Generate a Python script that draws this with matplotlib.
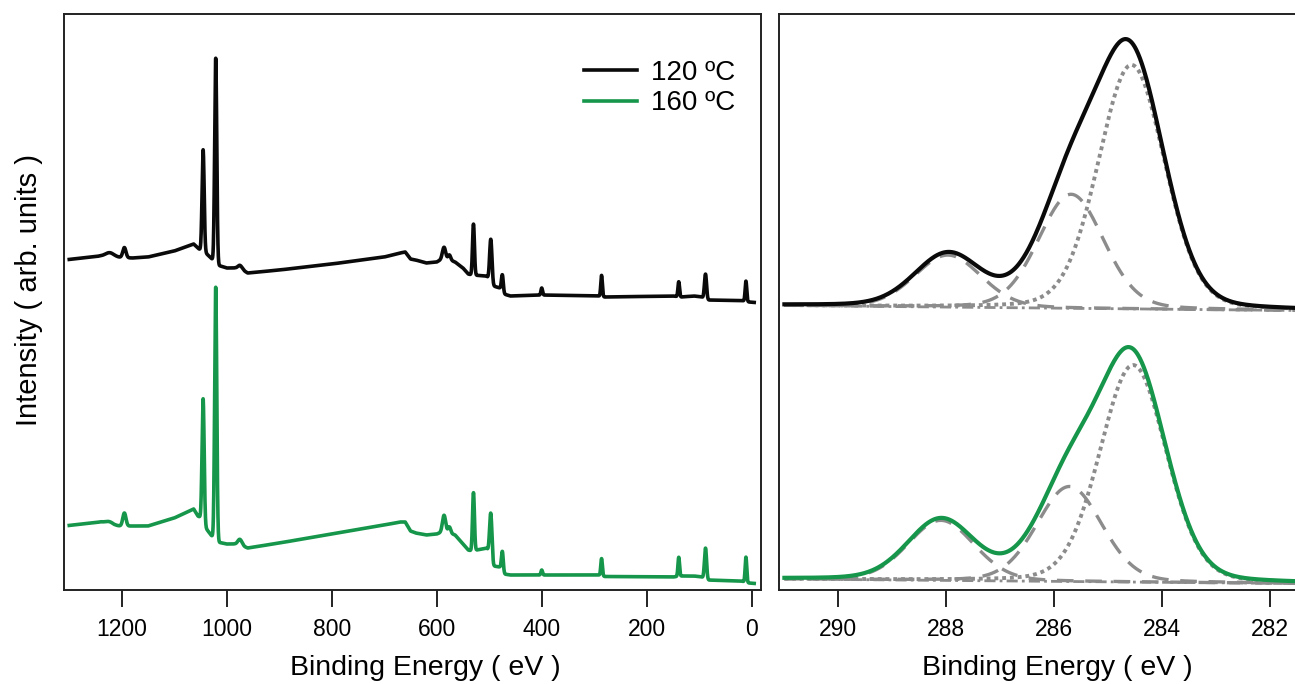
import numpy as np
import matplotlib
matplotlib.use('Agg')
import matplotlib.pyplot as plt

plt.rcParams['font.family'] = ['Liberation Sans', 'DejaVu Sans']

# ---- survey spectra: background anchor points (BE eV, intensity) ----
bg_be = [1310, 1240, 1215, 1180, 1150, 1100, 1063, 1055, 1048, 1040,
         1030, 1018, 1000, 985, 970, 960, 900, 800, 700, 670,
         660, 650, 640, 620, 600, 590, 575, 565, 550, 540,
         533, 505, 500, 492, 480, 472, 460, 400, 290, 280,
         150, 135, 110, 95, 85, 20, 12, 5, -18]
bg_120 = [340, 344, 343, 342, 343, 349, 356, 352, 349, 347,
          342, 335, 332, 332, 330, 327, 330, 336, 343, 347,
          348, 341, 340, 337, 338, 341, 340, 338, 332, 326,
          325, 324, 320, 314, 312, 306, 304, 305, 304, 303,
          304, 303, 304, 303, 300, 299.5, 299, 298, 297]
bg_160 = [74, 78, 74, 74, 74, 82, 91, 84, 82, 72,
          65, 58, 56, 56, 54, 52, 57, 66, 75, 78,
          78, 69, 67, 65, 66, 68, 67, 65, 56, 50,
          49, 52, 48, 34, 33, 26, 25, 25, 25, 23.5,
          23, 24, 24, 23, 20, 19, 18, 17, 16]

# survey peaks: position, height above background, sigma (eV)
pk_pos = [1223, 1195, 1045, 1021, 975, 586, 576, 530, 497, 475, 400, 286, 139, 88, 11]
pk_sig = [8, 3, 2, 2, 4, 3, 2.5, 1.8, 2.2, 1.8, 1.5, 1.5, 1.5, 2, 1.5]
pk_120 = [4, 10, 102, 205, 4, 12, 5, 51, 43, 17, 7, 21, 15, 25, 20]
pk_160 = [3, 13, 123, 253, 6, 17, 6, 58, 44, 20, 5, 17, 19, 31, 25]

# ---- C 1s fits: components C-C, C-O, C=O ----
c1s_labels = ['C-C', 'C-O', 'C=O']
c1s_fwhm = [1.45, 1.42, 1.45]
c1s_pos_120 = [284.57, 285.69, 287.97]
c1s_h_120 = [244, 114, 52]
c1s_pos_160 = [284.54, 285.72, 288.10]
c1s_h_160 = [217, 95, 60]
base_be = [291.0, 281.45]
base_120 = [294.5, 289.5]
base_160 = [21, 16.5]

BLACK = '#0a0a0a'
GREEN = '#16964a'
GRAY = '#8c8c8c'


def gauss(x, x0, h, s):
    return h * np.exp(-0.5 * ((x - x0) / s) ** 2)


def gl(x, x0, h, fwhm, m=0.15):
    """pseudo-Voigt (Gauss-Lorentz mix)"""
    s = fwhm / 2.3548
    g = np.exp(-0.5 * ((x - x0) / s) ** 2)
    lor = 1.0 / (1.0 + (2 * (x - x0) / fwhm) ** 2)
    return h * ((1 - m) * g + m * lor)


def survey(x, bg, heights):
    y = np.interp(x, bg_be[::-1], bg[::-1])
    for p, h, s in zip(pk_pos, heights, pk_sig):
        y = y + gauss(x, p, h, s)
    return y


W, H = 1295, 684
fig = plt.figure(figsize=(W / 100, H / 100), dpi=100)
ax1 = fig.add_axes([64 / W, 1 - 590 / H, (761 - 64) / W, 576 / H])
ax2 = fig.add_axes([779 / W, 1 - 590 / H, (1300 - 779) / W, 576 / H])

# ---- survey panel ----
be = np.arange(1300, -5, -0.25)
ax1.plot(be, survey(be, bg_120, pk_120), color=BLACK, lw=2.6, label='120 ºC')
ax1.plot(be, survey(be, bg_160, pk_160), color=GREEN, lw=2.6, label='160 ºC')
ax1.set_xlim(1310, -17.7)
ax1.set_xticks([1200, 1000, 800, 600, 400, 200, 0])
ax1.set_xlabel('Binding Energy ( eV )', fontsize=20.5)
ax1.xaxis.set_label_coords(0.518, -0.112)
ax1.set_ylabel('Intensity ( arb. units )', fontsize=21)
ax1.yaxis.set_label_coords(-0.030, 0.52)
ax1.legend(loc='upper left', bbox_to_anchor=(0.746, 0.92), frameon=False,
           fontsize=20, handlelength=1.9, handletextpad=0.5, labelspacing=0.15,
           borderpad=0, borderaxespad=0)

# ---- C 1s panel ----
e = np.linspace(291.0, 281.45, 800)
styles = [(0, (1, 1.0)), (0, (5, 3.5)), (0, (5, 3.5))]
widths = [2.8, 2.4, 2.4]
for pos, hts, base, col in [(c1s_pos_120, c1s_h_120, base_120, BLACK),
                            (c1s_pos_160, c1s_h_160, base_160, GREEN)]:
    bl = np.interp(e, base_be[::-1], base[::-1])
    total = bl.copy()
    for x0, h, fw, ls, lw in zip(pos, hts, c1s_fwhm, styles, widths):
        comp = gl(e, x0, h, fw)
        total += comp
        ax2.plot(e, bl + comp, color=GRAY, lw=lw, ls=ls, dash_capstyle='butt')
    ax2.plot(e, bl, color=GRAY, lw=2.0, ls=(0, (4, 1.5, 1, 1.5)))
    ax2.plot(e, total, color=col, lw=3.0)
ax2.set_xlim(291.1, 281.45)
ax2.set_xticks([290, 288, 286, 284, 282])
ax2.set_xlabel('Binding Energy ( eV )', fontsize=20.5)
ax2.xaxis.set_label_coords(0.534, -0.112)

for ax in (ax1, ax2):
    ax.set_ylim(10, 586)
    ax.set_yticks([])
    ax.tick_params(axis='x', direction='out', length=12, width=1.4,
                   labelsize=16.5, pad=8, color='#222222')
    for sp in ax.spines.values():
        sp.set_linewidth(1.4)
        sp.set_color('#222222')

fig.savefig('out.png', dpi=100)
